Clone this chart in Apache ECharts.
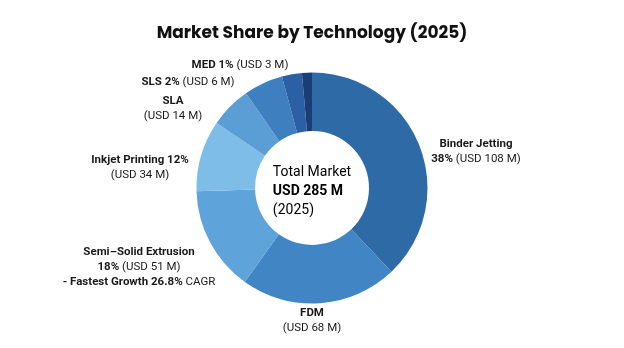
<!DOCTYPE html>
<html>
<head>
<meta charset="utf-8">
<script src="https://cdn.jsdelivr.net/npm/echarts@6/dist/echarts.min.js"></script>
<style>
  html, body { margin: 0; padding: 0; background: #fff; }
  #chart { width: 624px; height: 348px; }
</style>
</head>
<body>
<div id="chart"></div>
<script>
// slices clockwise from 12 o'clock
const techNames = ['Binder Jetting', 'FDM', 'Semi–Solid Extrusion', 'Inkjet Printing', 'Other', 'SLA', 'SLS', 'MED']
// slice sizes as drawn (share of the ring, %)
const sliceShares = [38, 22, 14.7, 10, 5.8, 5.5, 2.8, 1.4]
// values printed in the labels
const pctLabels = ['38%', '', '18%', '12%', '', '', '2%', '1%']
const usdMillions = [108, 68, 51, 34, null, 14, 6, 3]
const totalMarket = 285
const marketYear = 2025
const fastestCagr = '26.8%'

const colors = ['#2e6ba6', '#4185c5', '#5ea3d9', '#7dbde7', '#5b9ed6', '#3e7fc0', '#2b61a4', '#1b3d76']

// label centres (px)
const labelPos = [[476, 152], [312, 321], [139, 267], [140, 168], [0, 0], [173, 109], [188, 82], [240, 65]]

const font = 'Roboto, sans-serif'
const rich = {
  b: { fontFamily: font, fontSize: 11.5, fontWeight: 'bold', color: '#1a1a1a', lineHeight: 15 },
  n: { fontFamily: font, fontSize: 11.5, fontWeight: 'normal', color: '#1a1a1a', lineHeight: 15 }
}

function labelText(i) {
  const name = techNames[i]
  const pct = pctLabels[i]
  const usd = '(USD ' + usdMillions[i] + ' M)'
  if (name === 'Binder Jetting' || name === 'Semi–Solid Extrusion') {
    let t = '{b|' + name + '}\n{b|' + pct + '}{n| ' + usd + '}'
    if (name === 'Semi–Solid Extrusion') t += '\n{b|- Fastest Growth ' + fastestCagr + '}{n| CAGR}'
    return t
  }
  if (name === 'SLS' || name === 'MED') {
    return '{b|' + name + ' ' + pct + '}{n| ' + usd + '}'
  }
  return '{b|' + name + (pct ? ' ' + pct : '') + '}\n{n|' + usd + '}'
}

const chart = echarts.init(document.getElementById('chart'))
chart.setOption({
  backgroundColor: '#fff',
  animation: false,
  title: {
    text: 'Market Share by Technology (' + marketYear + ')',
    left: 'center',
    top: 20,
    textStyle: {
      fontFamily: 'Poppins, Inter, sans-serif',
      fontSize: 17,
      fontWeight: 'bold',
      color: '#111'
    }
  },
  graphic: [
    {
      type: 'text',
      left: 'center',
      top: 165,
      style: {
        text: '{r|Total Market}\n{b|USD ' + totalMarket + ' M}\n{r|(' + marketYear + ')}',
        align: 'center',
        rich: {
          r: { fontFamily: font, fontSize: 14, color: '#1a1a1a', lineHeight: 19 },
          b: { fontFamily: font, fontSize: 14, fontWeight: 'bold', color: '#1a1a1a', lineHeight: 19 }
        }
      }
    }
  ],
  series: [
    {
      type: 'pie',
      center: [312, 188],
      radius: [57, 115.5],
      startAngle: 90,
      clockwise: true,
      avoidLabelOverlap: false,
      label: {
        show: true,
        position: 'outside',
        align: 'center',
        formatter: p => labelText(p.dataIndex),
        rich: rich
      },
      labelLine: { show: false },
      labelLayout: params => {
        const p = labelPos[params.dataIndex]
        return { x: p[0], y: p[1], align: 'center', verticalAlign: 'middle' }
      },
      emphasis: { disabled: true },
      data: techNames.map((name, i) => ({
        name: name,
        value: sliceShares[i],
        itemStyle: { color: colors[i] },
        label: { show: usdMillions[i] !== null }
      }))
    }
  ]
})
</script>
</body>
</html>
